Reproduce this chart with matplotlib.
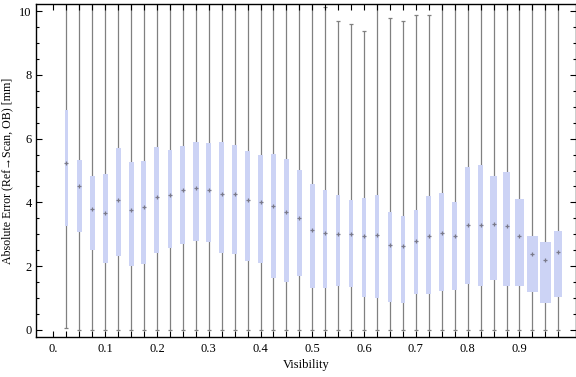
import numpy as np
import matplotlib
matplotlib.use("Agg")
import matplotlib.pyplot as plt
from matplotlib.ticker import MultipleLocator, FixedLocator

plt.rcParams['font.family'] = ['Liberation Serif', 'DejaVu Serif']

# visibility bins (box centres)
visibility = np.round(np.arange(1, 40) * 0.025, 3)

# whisker ends (values above 10.2 run off the top of the frame)
w_low = [0.07] + [0.0] * 38
w_high = [12.0] * 20 + [10.12, 9.68, 9.58, 9.36, 12.0, 9.77, 9.68, 9.87, 9.87] + [12.0] * 10

q1 = [3.26, 3.08, 2.52, 2.10, 2.33, 2.02, 2.08, 2.42, 2.58, 2.70,
      2.80, 2.77, 2.42, 2.38, 2.17, 2.11, 1.64, 1.51, 1.70, 1.33,
      1.33, 1.39, 1.36, 1.04, 1.01, 0.89, 0.86, 1.14, 1.14, 1.23,
      1.26, 1.43, 1.39, 1.58, 1.39, 1.39, 1.20, 0.86, 1.04]
median = [5.22, 4.51, 3.78, 3.68, 4.06, 3.75, 3.86, 4.17, 4.23, 4.39,
          4.45, 4.39, 4.25, 4.25, 4.08, 4.00, 3.88, 3.71, 3.52, 3.15,
          3.04, 3.00, 3.00, 2.95, 2.99, 2.65, 2.63, 2.80, 2.95, 3.05,
          2.95, 3.28, 3.28, 3.32, 3.27, 2.96, 2.37, 2.19, 2.44]
q3 = [6.90, 5.33, 4.83, 4.89, 5.71, 5.27, 5.30, 5.73, 5.64, 5.77,
      5.89, 5.86, 5.89, 5.80, 5.61, 5.49, 5.52, 5.36, 5.01, 4.58,
      4.39, 4.23, 4.08, 4.14, 4.22, 3.70, 3.57, 3.76, 4.20, 4.29,
      4.01, 5.11, 5.17, 4.83, 4.95, 4.11, 2.95, 2.76, 3.10]

# box widths in pixels (style only)
box_px = [3.5, 5, 5, 5, 5, 5, 5, 5, 4, 5,
          6, 5, 5, 5, 5, 5, 5, 5, 5, 5,
          4, 4, 4, 4, 4, 4, 4, 4, 5, 5,
          5, 5, 5, 7, 7, 9, 11, 11, 8]

x_ticklabels = ["0.", "0.1", "0.2", "0.3", "0.4", "0.5", "0.6", "0.7", "0.8", "0.9"]

fig = plt.figure(figsize=(5.76, 3.77), dpi=100)
ax = fig.add_axes([36 / 576, 1 - 337 / 377, 539.5 / 576, 333 / 377])

xmin, xmax = -0.0335, 1.0082
ymin, ymax = -0.22, 10.22
px_per_x = 539.5 / (xmax - xmin)
widths = np.array(box_px) / px_per_x
cap_w = 4.0 / px_per_x

grey = '#808080'
box_col = '#ccd3f5'

ax.vlines(visibility, w_low, w_high, color=grey, lw=0.9, zorder=1)
ax.hlines(w_low, visibility - cap_w / 2, visibility + cap_w / 2, color=grey, lw=0.9, zorder=1)
ax.hlines(w_high, visibility - cap_w / 2, visibility + cap_w / 2, color=grey, lw=0.9, zorder=1)
ax.bar(visibility, np.array(q3) - np.array(q1), bottom=q1, width=widths,
       color=box_col, edgecolor='none', zorder=2)
ax.plot(visibility, median, linestyle='none', marker='+', markersize=2.8,
        mew=0.9, color='#7a7a8a', zorder=3)

ax.set_xlim(xmin, xmax)
ax.set_ylim(ymin, ymax)

ax.xaxis.set_major_locator(FixedLocator(np.arange(10) * 0.1))
ax.xaxis.set_minor_locator(FixedLocator(np.arange(40) * 0.025))
ax.set_xticklabels(x_ticklabels)
ax.yaxis.set_major_locator(MultipleLocator(2))
ax.yaxis.set_minor_locator(MultipleLocator(0.5))

ax.tick_params(which='both', direction='in', top=True, right=True, width=0.8,
               labelsize=9, color='black')
ax.tick_params(axis='x', which='both', length=4.5, pad=4)
ax.tick_params(axis='y', which='major', length=4.5, pad=3)
ax.tick_params(axis='y', which='minor', length=2.5)

for s in ax.spines.values():
    s.set_linewidth(1.0)

ax.set_xlabel("Visibility", fontsize=9, labelpad=3)
ax.set_ylabel("Absolute Error (Ref\u2192Scan, OB) [mm]", fontsize=8.6, labelpad=4)

plt.savefig("out.png", dpi=100)
